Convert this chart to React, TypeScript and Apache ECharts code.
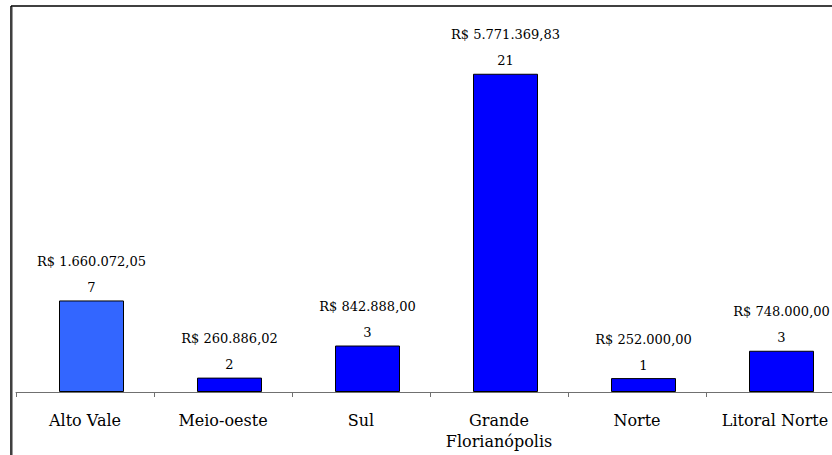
import React, { useEffect, useRef } from "react";
import * as echarts from "echarts";

const regions = ["Alto Vale", "Meio-oeste", "Sul", "Grande\nFlorianópolis", "Norte", "Litoral Norte"];
const amounts = [1660072.05, 260886.02, 842888.0, 5771369.83, 252000.0, 748000.0];
const counts = [7, 2, 3, 21, 1, 3];
const barColors = ["#3366ff", "#0000ff", "#0000ff", "#0000ff", "#0000ff", "#0000ff"];

const FONT = "DejaVu Serif";

function brl(v: number): string {
  const fixed = v.toFixed(2);
  const [intPart, dec] = fixed.split(".");
  const grouped = intPart.replace(/\B(?=(\d{3})+(?!\d))/g, ".");
  return `R$ ${grouped},${dec}`;
}

export default function App() {
  const ref = useRef<HTMLDivElement>(null);

  useEffect(() => {
    if (!ref.current) return;
    const chart = echarts.init(ref.current, undefined, { renderer: "svg" });
    const gridTop = 6;
    const gridHeight = 386;
    chart.setOption({
      animation: false,
      backgroundColor: "#ffffff",
      grid: [
        { left: 22.5, top: gridTop, width: 828, height: gridHeight },
        { left: 16, top: gridTop, width: 828, height: gridHeight },
      ],
      xAxis: [
        {
          type: "category",
          gridIndex: 0,
          data: regions,
          show: false,
        },
        {
          type: "category",
          gridIndex: 1,
          data: regions,
          axisLine: { lineStyle: { color: "#707070", width: 1 } },
          axisTick: { show: true, length: 5, lineStyle: { color: "#707070" } },
          axisLabel: {
            interval: 0,
            color: "#000",
            fontFamily: FONT,
            fontSize: 16,
            lineHeight: 21,
            margin: 18,
          },
        },
      ],
      yAxis: [
        { type: "value", gridIndex: 0, min: 0, max: 7000000, show: false },
        { type: "value", gridIndex: 1, min: 0, max: 7000000, show: false },
      ],
      series: [
        {
          type: "bar",
          xAxisIndex: 0,
          yAxisIndex: 0,
          barWidth: 65,
          data: amounts.map((v, i) => ({
            value: v,
            itemStyle: { color: barColors[i], borderColor: "#000", borderWidth: 1 },
          })),
          label: {
            show: true,
            position: "top",
            distance: 0,
            color: "#000",
            fontFamily: FONT,
            fontSize: 13,
            lineHeight: 26,
            align: "center",
            formatter: (p: any) => `${brl(amounts[p.dataIndex])}\n${counts[p.dataIndex]}`,
          },
        },
      ],
      graphic: [
        {
          type: "line",
          shape: { x1: 11, y1: 6, x2: 860, y2: 6 },
          style: { stroke: "#000", lineWidth: 1.5 },
          silent: true,
        },
        {
          type: "line",
          shape: { x1: 11, y1: 6, x2: 11, y2: 455 },
          style: { stroke: "#000", lineWidth: 1.5 },
          silent: true,
        },
        {
          type: "line",
          shape: { x1: 12.5, y1: 7, x2: 12.5, y2: 455 },
          style: { stroke: "#9a9a9a", lineWidth: 1 },
          silent: true,
        },
      ],
    });
    return () => chart.dispose();
  }, []);

  // The chart canvas is wider than the visible frame so the last category runs off the right edge.
  return (
    <div
      style={{ position: "fixed", left: 0, top: 0, width: 832, height: 455, overflow: "hidden", background: "#fff" }}
    >
      <div ref={ref} style={{ width: 860, height: 455 }} />
    </div>
  );
}
